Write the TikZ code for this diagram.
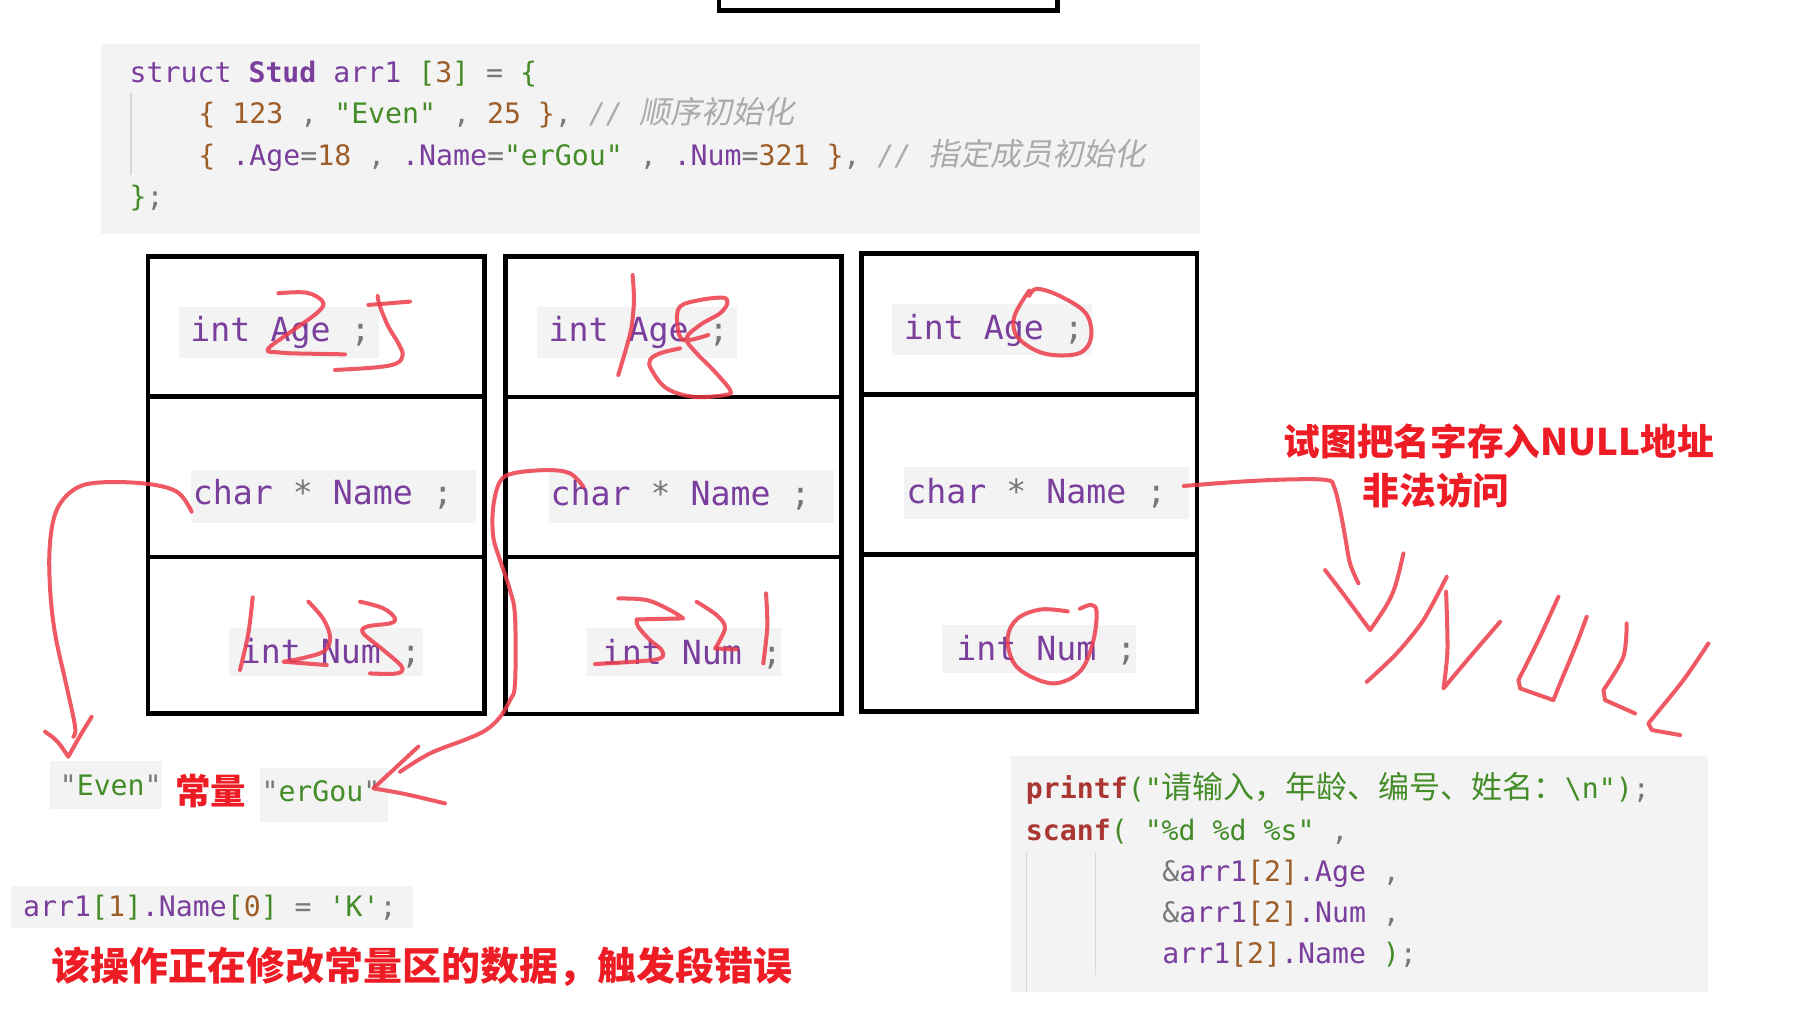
\documentclass[tikz,border=0pt]{standalone}
\usepackage{fontspec}
\setmonofont{DejaVu Sans Mono}
\newfontfamily\cjk{Noto Sans CJK SC}
\newfontfamily\cjkcode{Noto Sans CJK SC}[Scale=1.1]
\newfontfamily\cjkcom{Noto Sans CJK SC}[Scale=1.1,FakeSlant=0.2]
\definecolor{cpurple}{HTML}{7A3E9D}
\definecolor{cgreen}{HTML}{448C27}
\definecolor{cbrown}{HTML}{9C5D27}
\definecolor{cgray}{HTML}{777777}
\definecolor{ccomment}{HTML}{AAAAAA}
\definecolor{cfunc}{HTML}{AA3731}
\definecolor{penred}{RGB}{236,60,74}
\definecolor{textred}{RGB}{238,28,36}
\definecolor{bggray}{RGB}{243,243,243}
\definecolor{guidegray}{RGB}{215,215,215}
\newcommand\kwP[1]{\textcolor{cpurple}{#1}}
\newcommand\kwG[1]{\textcolor{cgreen}{#1}}
\newcommand\kwB[1]{\textcolor{cbrown}{#1}}
\newcommand\kwK[1]{\textcolor{cgray}{#1}}
\newcommand\kwC[1]{\textcolor{ccomment}{\itshape #1}}
\newcommand\kwF[1]{\textcolor{cfunc}{\bfseries #1}}
\tikzset{
  box/.style={draw=black, line width=4pt},
  bgbox/.style={fill=bggray, draw=none},
  guide/.style={draw=guidegray, line width=1.3pt},
  code/.style={font=\ttfamily\fontsize{24.6}{30}\selectfont, anchor=base west, inner sep=0pt},
  cell/.style={font=\ttfamily\fontsize{29}{34}\selectfont, anchor=base west, inner sep=0pt},
  redtxt/.style={font=\cjk\bfseries\fontsize{32}{38}\selectfont, text=textred, inner sep=0pt, anchor=west},
  pen/.style={draw=penred, line width=3.5pt, line cap=round, line join=round, opacity=0.85},
}
\begin{document}
\begin{tikzpicture}[x=1pt,y=-1pt]
\useasboundingbox (0,0) rectangle (1568,880);
\fill[white] (0,0) rectangle (1568,880);

% top box (cut off)
\draw[box] (627.5,-20) rectangle (922.5,9);

% code block 1
\fill[bggray] (88,38.4) rectangle (1047,204.5);
\draw[guide] (114.3,81) -- (114.3,152.7);
\node[code] (l1) at (113,72) {\kwP{struct} \kwP{\bfseries Stud} \kwP{arr1} \kwG{[}\kwB{3}\kwG{]} \kwK{=} \kwG{\{}};
\node[code] (l2) at (173,108) {\kwB{\{} \kwB{123} \kwK{,} \kwG{"Even"} \kwK{,} \kwB{25} \kwB{\}}\kwK{,} \kwC{// {\cjkcom 顺序初始化}}};
\node[code] (l3) at (173,144) {\kwB{\{} \kwP{.Age}\kwK{=}\kwB{18} \kwK{,} \kwP{.Name}\kwK{=}\kwG{"erGou"} \kwK{,} \kwP{.Num}\kwK{=}\kwB{321} \kwB{\}}\kwK{,} \kwC{// {\cjkcom 指定成员初始化}}};
\node[code] (l4) at (113,180) {\kwG{\}}\kwK{;}};

% column 1
\draw[box] (129,224) rectangle (422.5,622.5);
\draw[box] (129,346) -- (422.5,346);
\draw[box] (129,486) -- (422.5,486);
% column 2
\draw[box] (441,224) rectangle (734,623);
\draw[box] (441,346.5) -- (734,346.5);
\draw[box] (441,486) -- (734,486);
% column 3
\draw[box] (751.5,221) rectangle (1044.5,621);
\draw[box] (751.5,344) -- (1044.5,344);
\draw[box] (751.5,484) -- (1044.5,484);

% cell backgrounds
\fill[bggray] (156,267.6) rectangle (331,312);
\fill[bggray] (166.4,410) rectangle (415.4,456);
\fill[bggray] (199.8,548.3) rectangle (369.4,590);
\fill[bggray] (468.2,267.6) rectangle (642.8,312);
\fill[bggray] (479,410.2) rectangle (727.7,456);
\fill[bggray] (511.9,547.7) rectangle (681.5,590);
\fill[bggray] (778.6,265.3) rectangle (953,309.8);
\fill[bggray] (788.8,407.8) rectangle (1037.5,453.2);
\fill[bggray] (821.6,545.4) rectangle (991.2,587);

% cell texts
\node[cell] (a1) at (166,298.1) {\kwP{int Age} \kwK{;}};
\node[cell] (n1) at (168,440.6) {\kwP{char} \kwK{*} \kwP{Name} \kwK{;}};
\node[cell] (u1) at (210,578.8) {\kwP{int Num} \kwK{;}};
\node[cell] (a2) at (478.5,297.6) {\kwP{int Age} \kwK{;}};
\node[cell] (n2) at (480.2,441.3) {\kwP{char} \kwK{*} \kwP{Name} \kwK{;}};
\node[cell] (u2) at (525,579.4) {\kwP{int Num} \kwK{;}};
\node[cell] (a3) at (788.5,295.8) {\kwP{int Age} \kwK{;}};
\node[cell] (n3) at (790.6,439.2) {\kwP{char} \kwK{*} \kwP{Name} \kwK{;}};
\node[cell] (u3) at (834.2,576.5) {\kwP{int Num} \kwK{;}};

% bottom-left constants
\fill[bggray] (43.8,663.8) rectangle (141.5,706);
\node[code] (even) at (52,693.7) {\kwK{"}\kwG{Even}\kwK{"}};
\node[redtxt, font=\cjk\bfseries\fontsize{31}{36}\selectfont] (const) at (152.5,690) {常量};
\fill[bggray] (226.8,670.4) rectangle (338.2,717);
\node[code] (ergou) at (228,699.5) {\kwK{"}\kwG{erGou}\kwK{"}};

\fill[bggray] (10,772.8) rectangle (360.5,809.5);
\node[code] (assign) at (20,800) {\kwP{arr1}\kwG{[}\kwB{1}\kwG{]}\kwP{.Name}\kwG{[}\kwB{0}\kwG{]} \kwK{=} \kwG{'K'}\kwK{;}};
\node[redtxt, font=\cjk\bfseries\fontsize{34}{40}\selectfont] (segv) at (45,843) {该操作正在修改常量区的数据，触发段错误};

% right note
\node[redtxt] (note1) at (1120,385) {试图把名字存入NULL地址};
\node[redtxt] (note2) at (1189,428) {非法访问};

% bottom-right code
\fill[bggray] (882,659.7) rectangle (1490,866);
\draw[guide] (895.7,743) -- (895.7,866);
\draw[guide] (956,743) -- (956,851);
\node[code] (p1) at (895,697) {\kwF{printf}\kwG{("{\cjkcode 请输入，年龄、编号、姓名：}\textbackslash n")}\kwK{;}};
\node[code] (p2) at (895,733) {\kwF{scanf}\kwG{(} \kwG{"\%d \%d \%s"} \kwK{,}};
\node[code] (p3) at (1014,769) {\kwK{\&}\kwP{arr1}\kwB{[2]}\kwP{.Age} \kwK{,}};
\node[code] (p4) at (1014,805) {\kwK{\&}\kwP{arr1}\kwB{[2]}\kwP{.Num} \kwK{,}};
\node[code] (p5) at (1014,841) {\kwP{arr1}\kwB{[2]}\kwP{.Name} \kwG{)}\kwK{;}};

% ---------- red handwriting ----------
% col1 "25"
\draw[pen] plot[smooth,tension=0.6] coordinates {(242.9,255.9) (267.6,255.4) (281.6,263.2) (277.8,272) (256,288) (235.6,302.5) (234.2,306.8)} -- (253,308.3) -- (301,309.2);
\draw[pen] (321.4,266.1) -- (357.8,263.2);
\draw[pen] plot[smooth,tension=0.6] coordinates {(329.5,258.3) (331.6,267.6) (338.9,285) (347.6,299.6) (351.4,309.8) (346.1,317) (328.7,320.5) (292.3,322.8)};
% col1 "123"
\draw[pen] plot[smooth] coordinates {(220.5,521.2) (216.7,552.7) (209.4,584.6)};
\draw[pen] plot[smooth,tension=0.6] coordinates {(269.1,525) (282,540) (288,556) (283,568) (265,574) (247.3,577.4)} -- (285.1,580.3);
\draw[pen] plot[smooth,tension=0.6] coordinates {(314.2,525) (334.5,530.8) (344.7,539.6) (340.3,543.9) (320,546.8) (317.1,552.7) (334.5,567.2) (350.5,581.7) (346.2,587.6) (322.9,587.6)};
% col2 "18"
\draw[pen] plot[smooth] coordinates {(552,240) (553.2,261.8) (551.1,285.1) (546.8,302.5) (539.5,327.2)};
\draw[pen] plot[smooth,tension=0.6] coordinates {(618,292.3) (596.2,296.7) (591,282.2) (593.3,267.6) (610.8,261.8) (631.1,259.8) (634.6,264.7) (628.2,273.4) (610.8,283.6) (599.1,295.3) (607.9,308.3) (622.4,322.9) (637,340.3) (632.6,344.7) (605,346.2) (581.7,338.9) (568.6,322.9) (567.1,314.2) (575.9,308.3) (593.3,304)};
% col2 "321"
\draw[pen] plot[smooth,tension=0.6] coordinates {(539.5,522.2) (564.2,523.6) (584.6,532.3) (596.2,539.6)} -- (555.5,540.5) plot[smooth,tension=0.6] coordinates {(555.5,540.5) (557,547) (567.1,558.5) (577.3,567.2) (575.9,574.5) (552.6,577.4) (519.2,579.4)};
\draw[pen] plot[smooth,tension=0.6] coordinates {(607.9,525.1) (625.3,536.7) (632.6,546.9) (628.2,558.5) (623.9,565.8)} -- (642.8,566.7);
\draw[pen] plot[smooth] coordinates {(668.4,517.8) (669.5,546.9) (666,578.9)};
% col3 circles
\draw[pen] plot[smooth,tension=0.6] coordinates {(898.1,253.5) (885,276.4) (888.3,294.7) (911.3,308.5) (940.8,308.5) (952,294.7) (947.4,273.4) (924.4,258.1) (904.7,252) (898.1,258.1)};
\draw[pen] plot[smooth,tension=0.6] coordinates {(931.7,533.5) (908.4,531.8) (887.9,539.7) (879.2,556.6) (885,579.1) (902.5,591.8) (923,596) (943.4,584.7) (953.9,559.4) (956.9,534) (952.2,527.8) (942.3,531.2)};

% arrow: arr1[0].Name -> "Even"
\coordinate (s1) at (167.2,446.5);
\coordinate (t1) at (59.6,660.3);
\draw[pen] plot[smooth,tension=0.6] coordinates {(s1) (154.2,429) (125.1,421.8) (84.4,421.2) (64,427.6) (49.5,445) (43.6,474) (43.6,512) (48,552.6) (58.2,599.2) (65.5,634) (64,642.8)};
\draw[pen] (39.3,638.4) .. controls (50,646) .. (t1) .. controls (68,645) .. (80,625.4);

% arrow: arr1[1].Name -> "erGou"
\coordinate (s2) at (509,424.7);
\coordinate (t2) at (325.8,687.9);
\draw[pen] plot[smooth,tension=0.6] coordinates {(s2) (497.3,413) (477,410.2) (447.9,413) (436.3,420.3) (430.4,442.1) (430.4,468.3) (436.3,488.7) (445,514.9) (449.4,538.2) (449.4,596.3) (445,610.9) (436,626) (424,637) (407,645) (375.2,657.4) (349.1,673.4)};
\draw[pen] (365,651.5) .. controls (345,670) .. (t2) .. controls (352,692.3) .. (388.3,701);

% arrow: arr1[2].Name -> NULL
\coordinate (s3) at (1033,424);
\coordinate (t3) at (1195.5,549.8);
\draw[pen] plot[smooth,tension=0.6] coordinates {(s3) (1082,420.3) (1125.7,418.3) (1157.7,418.9) (1164,424.7) (1169.3,445) (1173.7,468.3) (1178,491.6) (1185.3,509)};
\draw[pen] (1156.2,497.4) .. controls (1172,518) .. (t3) .. controls (1216,520) .. (1224.6,482.9);

% handwritten NULL
\draw[pen] plot[smooth,tension=0.5] coordinates {(1192.6,594.9) (1218.7,570.1) (1242,541.1) (1262.4,503.2)};
\draw[pen] plot[smooth,tension=0.5] coordinates {(1261.8,516.3) (1263,567.2) (1259.5,600.7)} -- (1282.7,573) -- (1308.9,542.5);
\draw[pen] plot[smooth,tension=0.5] coordinates {(1359.8,520.7) (1343.8,555.6) (1324.9,593.4)} -- (1326.4,600.7) -- (1355.4,610.9) plot[smooth,tension=0.5] coordinates {(1355.4,610.9) (1361.3,596.3) (1375.8,561.4) (1384.5,538.1)};
\draw[pen] plot[smooth,tension=0.5] coordinates {(1419.4,544) (1416.5,573) (1399.1,602.1)} -- (1400.5,610.9) -- (1426.7,622.5);
\draw[pen] plot[smooth,tension=0.5] coordinates {(1490.7,561.4) (1468.9,593.4) (1438.3,631.2)} -- (1441.2,637) -- (1466,641.4);
\end{tikzpicture}
\end{document}
